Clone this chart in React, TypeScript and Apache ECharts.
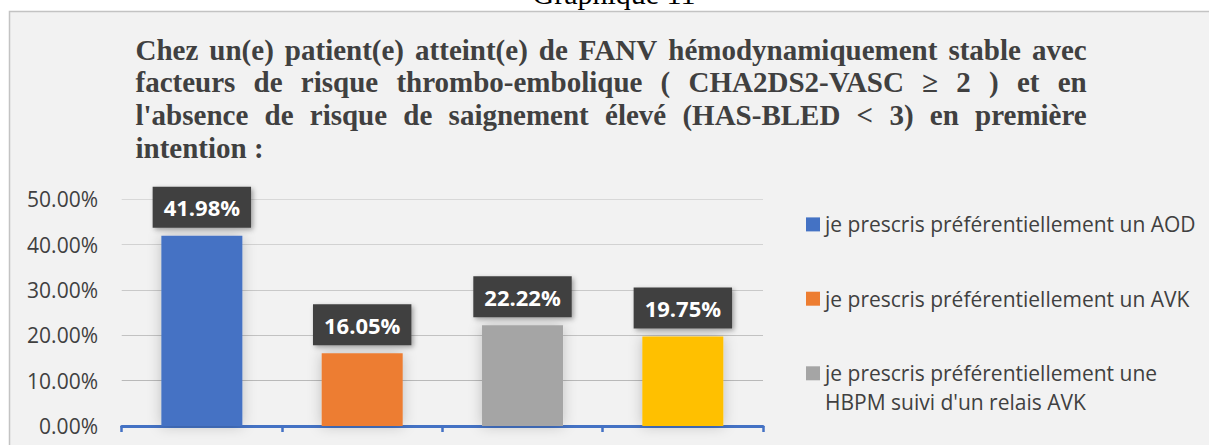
import React, { useEffect, useRef } from "react";
import * as echarts from "echarts";

// ---- data ----
const pageTitle = "Graphique 11";
const titleLines = [
  "Chez un(e) patient(e) atteint(e) de FANV hémodynamiquement stable avec",
  "facteurs de risque thrombo-embolique ( CHA2DS2-VASC ≥ 2 ) et en",
  "l'absence de risque de saignement élevé (HAS-BLED < 3) en première",
  "intention :",
];
const categories = ["AOD", "AVK", "HBPM", "4"];
const seriesNames = [
  "je prescris préférentiellement un AOD",
  "je prescris préférentiellement un AVK",
  "je prescris préférentiellement une\nHBPM suivi d'un relais AVK",
  "",
];
const values = [41.98, 16.05, 22.22, 19.75];
const barColors = ["#4472c4", "#ed7d31", "#a5a5a5", "#ffc000"];
const yMin = 0;
const yMax = 50;
const yInterval = 10;

// ---- helpers ----
const measure = (() => {
  const ctx = document.createElement("canvas").getContext("2d") as CanvasRenderingContext2D;
  return (text: string, font: string) => {
    ctx.font = font;
    return ctx.measureText(text).width;
  };
})();

const TITLE_SIZE = 29;
const TITLE_FONT = `bold ${TITLE_SIZE}px "Liberation Serif"`;
const TITLE_LEFT = 135.5;
const TITLE_RIGHT = 1086.7;
const TEXT_COLOR = "#404040";

function buildTitleGraphics() {
  const els: any[] = [];
  titleLines.forEach((line, i) => {
    const yMid = 59.5 + 32.6 * i - 0.3375 * TITLE_SIZE;
    const justify = i < titleLines.length - 1;
    if (!justify) {
      els.push({
        type: "text",
        x: TITLE_LEFT,
        y: yMid,
        silent: true,
        style: { text: line, font: TITLE_FONT, fill: TEXT_COLOR, align: "left", verticalAlign: "middle", textAlign: "left", textVerticalAlign: "middle" },
      });
      return;
    }
    const words = line.split(" ");
    const widths = words.map((w) => measure(w, TITLE_FONT));
    const total = widths.reduce((a, b) => a + b, 0);
    const gap = (TITLE_RIGHT - TITLE_LEFT - total) / (words.length - 1);
    let x = TITLE_LEFT;
    words.forEach((w, k) => {
      els.push({
        type: "text",
        x,
        y: yMid,
        silent: true,
        style: { text: w, font: TITLE_FONT, fill: TEXT_COLOR, align: "left", verticalAlign: "middle", textAlign: "left", textVerticalAlign: "middle" },
      });
      x += widths[k] + gap;
    });
  });
  return els;
}

export default function App() {
  const ref = useRef<HTMLDivElement>(null);

  useEffect(() => {
    if (!ref.current) return;
    const chart = echarts.init(ref.current, undefined, { renderer: "svg" });

    const series = values.map((v, i) => ({
      type: "bar",
      name: seriesNames[i] || undefined,
      data: values.map((_, j) => (j === i ? v : "-")),
      barWidth: 81,
      barGap: "-100%",
      itemStyle: {
        color: barColors[i],
        shadowBlur: 14,
        shadowColor: "rgba(0,0,0,0.22)",
      },
      label: {
        show: true,
        position: "top",
        distance: 8,
        formatter: (p: any) => `${Number(p.value).toFixed(2)}%`,
        color: "#ffffff",
        fontFamily: "Open Sans",
        fontWeight: "bold",
        fontSize: 22,
        lineHeight: 25,
        backgroundColor: "#404040",
        padding: [8, 11],
        shadowBlur: 5,
        shadowOffsetX: 2,
        shadowOffsetY: 2,
        shadowColor: "rgba(0,0,0,0.35)",
      },
    }));

    const legendBase = {
      orient: "vertical",
      left: 801,
      itemWidth: 14,
      itemHeight: 14,
      itemGap: 0,
      icon: "rect",
      selectedMode: false,
      textStyle: { fontFamily: "Open Sans", fontSize: 21, color: TEXT_COLOR, lineHeight: 28 },
    };

    chart.setOption({
      animation: false,
      backgroundColor: "#ffffff",
      textStyle: { fontFamily: "Open Sans" },
      grid: { left: 121.7, right: 446, top: 199.3, bottom: 19 },
      legend: [
        { ...legendBase, top: 205.4, data: [seriesNames[0]] },
        { ...legendBase, top: 279.7, data: [seriesNames[1]] },
        { ...legendBase, top: 354.3, data: [seriesNames[2]], formatter: (n: string) => n.split("\n")[0] },
      ],
      xAxis: {
        type: "category",
        data: categories,
        axisLine: { show: true, lineStyle: { color: "#4472c4", width: 3 } },
        axisTick: { show: true, length: 6, lineStyle: { color: "#4472c4", width: 2.5 } },
        axisLabel: { show: false },
        splitLine: { show: false },
      },
      yAxis: {
        type: "value",
        min: yMin,
        max: yMax,
        interval: yInterval,
        axisLine: { show: false },
        axisTick: { show: false },
        axisLabel: {
          formatter: (v: number) => `${v.toFixed(2)}%`,
          fontFamily: "Open Sans",
          fontSize: 21,
          color: TEXT_COLOR,
          margin: 23.7,
        },
        splitLine: {
          show: true,
          lineStyle: { color: ["#bdbdbd", "#b9b9b9", "#c2c2c2", "#c9c9c9", "#d2d2d2", "#d8d8d8"], width: 1.2 },
        },
      },
      series,
      graphic: [
        {
          type: "rect",
          z: -10,
          silent: true,
          shape: { x: 9.5, y: 11.5, width: 1300, height: 500 },
          style: { fill: "#f2f2f2", stroke: "#c3c3c3", lineWidth: 1.5 },
        },
        {
          type: "text",
          x: 614,
          y: 3.5 - 0.3375 * 30,
          silent: true,
          style: {
            text: pageTitle,
            font: '30px "Liberation Serif"',
            fill: "#000000",
            align: "center",
            verticalAlign: "middle",
            textAlign: "center",
            textVerticalAlign: "middle",
          },
        },
        {
          type: "text",
          x: 825,
          y: 401.7,
          silent: true,
          style: {
            text: seriesNames[2].split("\n")[1],
            font: '21px "Open Sans"',
            fill: TEXT_COLOR,
            align: "left",
            verticalAlign: "middle",
            textAlign: "left",
            textVerticalAlign: "middle",
          },
        },
        ...buildTitleGraphics(),
      ],
    });

    return () => chart.dispose();
  }, []);

  return (
    <div
      ref={ref}
      style={{ position: "fixed", left: 0, top: 0, width: 1209, height: 445 }}
    />
  );
}
